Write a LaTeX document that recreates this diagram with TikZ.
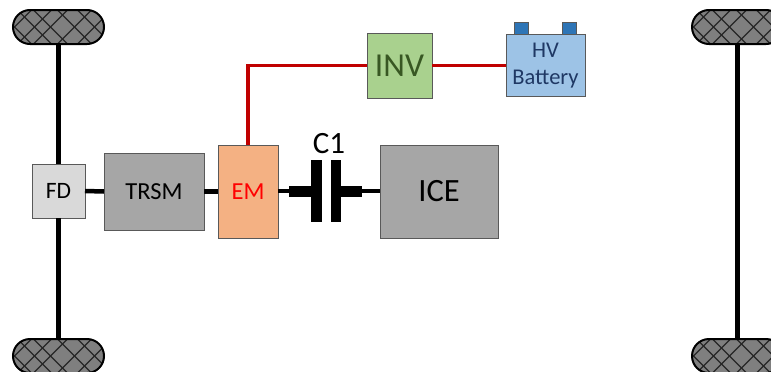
\documentclass[tikz,border=0pt]{standalone}
\usepackage{fontspec}
\setmainfont{Carlito}
\usetikzlibrary{shapes.misc}
\definecolor{wirered}{HTML}{C00000}
\definecolor{boxgrey}{HTML}{A6A6A6}
\definecolor{fdgrey}{HTML}{D9D9D9}
\definecolor{edgegrey}{HTML}{595959}
\definecolor{invgreen}{HTML}{A9D18E}
\definecolor{emorange}{HTML}{F4B183}
\definecolor{batblue}{HTML}{9DC3E6}
\definecolor{termblue}{HTML}{2E75B6}
\definecolor{dkgreen}{HTML}{385723}
\definecolor{dkblue}{HTML}{1F3864}
\definecolor{tyre}{HTML}{7F7F7F}
\tikzset{
  x=1pt,y=-1pt,
  block/.style={draw=edgegrey,line width=1pt,inner sep=0pt,outer sep=0pt,minimum width=#1},
  terminal/.style={draw=edgegrey,line width=1pt,fill=termblue,minimum width=14pt,minimum height=12pt,inner sep=0pt,outer sep=0pt},
  shaft/.style={line width=5pt,black},
  thinshaft/.style={line width=4.5pt,black},
  wire/.style={line width=3.8pt,wirered},
  plate/.style={fill=black,draw=none,inner sep=0pt,minimum width=10.5pt,minimum height=62pt},
  stub/.style={fill=black,draw=none,inner sep=0pt,minimum height=11pt},
  tyrenode/.style={rounded rectangle,draw=black,line width=2pt,fill=tyre,inner sep=0pt,outer sep=0pt,
    minimum width=91pt,minimum height=34pt,
    path picture={
      \foreach \d in {-88,-64,-44,-24,-8,16,36,56,76}{
        \draw[black!85,line width=1.2pt] ([xshift=\d pt]path picture bounding box.center) ++(-30pt,-30pt) -- ++(60pt,60pt);
        \draw[black!85,line width=1.2pt] ([xshift=\d pt]path picture bounding box.center) ++(30pt,-30pt) -- ++(-60pt,60pt);
      }
    }},
}
\begin{document}
\begin{tikzpicture}
\useasboundingbox (0,0) rectangle (771,372);
\clip (0,0) rectangle (771,372);
% wheels
\node[tyrenode] (wheelTL) at (58.5,27) {};
\node[tyrenode] (wheelBL) at (58.5,356) {};
\node[tyrenode] (wheelTR) at (737.5,27) {};
\node[tyrenode] (wheelBR) at (737.5,356) {};
% blocks
\node[block=53pt,fill=fdgrey,minimum height=54pt,font=\fontsize{23.5}{28}\selectfont] (fd) at (58.5,191) {FD};
\node[block=100pt,fill=boxgrey,minimum height=77pt,font=\fontsize{24.5}{29}\selectfont] (trsm) at (154,191.5) {TRSM};
\node[block=60pt,fill=emorange,minimum height=93pt,text=red,font=\fontsize{24.5}{29}\selectfont] (em) at (248,191.5) {EM};
\node[block=118pt,fill=boxgrey,minimum height=93pt,font=\fontsize{32.5}{38}\selectfont] (ice) at (439,191.5) {ICE};
\node[block=65pt,fill=invgreen,minimum height=65pt,text=dkgreen,font=\fontsize{33.5}{40}\selectfont] (inv) at (399.5,65.5) {INV};
\node[terminal] (termA) at (521,28.3) {};
\node[terminal] (termB) at (569.3,28.3) {};
\node[block=79pt,fill=batblue,minimum height=62pt,align=center,text=dkblue,font=\fontsize{22.5}{27.5}\selectfont] (bat) at (545.5,65.5)
  {HV\\Battery};
% clutch
\node[plate] (plateL) at (316.3,191) {};
\node[plate] (plateR) at (336.2,191) {};
\node[stub,minimum width=22pt] (stubL) at (300,191) {};
\node[stub,minimum width=21pt] (stubR) at (351.5,191) {};
\node[font=\fontsize{31}{37}\selectfont,inner sep=0pt] (c1) at (329,144) {C1};
% shafts
\draw[shaft] (wheelTL.south) -- (fd.north);
\draw[shaft] (fd.south) -- (wheelBL.north);
\draw[shaft] (wheelTR.south) -- (wheelBR.north);
\draw[thinshaft] (fd.east) -- (trsm.west);
\draw[thinshaft] (trsm.east) -- (em.west);
\draw[thinshaft] (em.east |- stubL.west) -- (stubL.west);
\draw[thinshaft] (stubR.east) -- (ice.west |- stubR.east);
% wires
\draw[wire] (em.north) |- (inv.west);
\draw[wire] (inv.east) -- (bat.west);
\end{tikzpicture}
\end{document}
